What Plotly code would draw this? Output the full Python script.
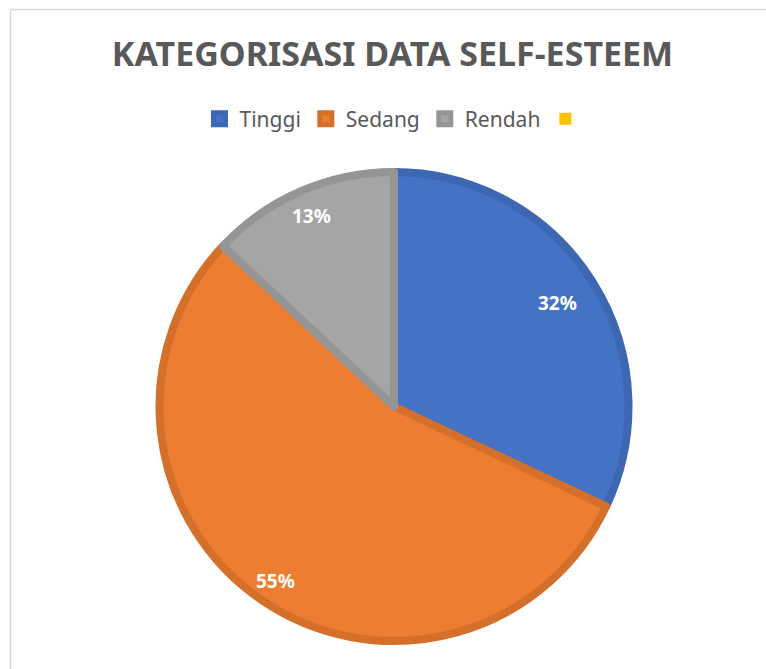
import math
import plotly.graph_objects as go

categories = ["Tinggi", "Sedang", "Rendah", " "]
values = [32, 55, 13, 0]
fill_colors = ["#4472C4", "#ED7D31", "#A5A5A5", "#FFC000"]
line_colors = ["#3D67B3", "#D5702B", "#959595", "#E6AC00"]
line_widths = [8, 8, 8, 0]
label_radius = [0.81, 0.885, 0.87, 0.0]  # fraction of radius for the % labels

W, H = 766, 669
FONT = "Liberation Sans Narrow, Noto Sans, sans-serif"

# pie placement in pixels
CX, CY, R = 394.0, 406.5, 238.5
dom_x = [(CX - (W - CX)) / W, 1.0]
dom_y = [1 - (CY + R - 4) / H, 1 - (CY - R + 4) / H]

fig = go.Figure(go.Pie(
    labels=categories,
    values=values,
    sort=False,
    direction="clockwise",
    rotation=0,
    marker=dict(colors=fill_colors, line=dict(color=line_colors, width=line_widths)),
    textinfo="none",
    domain=dict(x=dom_x, y=dom_y),
    hoverinfo="label+percent",
))

# percentage labels placed along each slice's bisector
total = sum(values)
annotations = []
cum = 0.0
for lab, v, rf in zip(categories, values, label_radius):
    if v <= 0:
        continue
    mid = (cum + v / 2) / total * 2 * math.pi
    cum += v
    px = CX + rf * R * math.sin(mid)
    py = CY - rf * R * math.cos(mid)
    annotations.append(dict(
        x=px / W, y=1 - py / H, xref="paper", yref="paper",
        text=f"<b>{round(v / total * 100)}%</b>", showarrow=False,
        font=dict(color="white", size=19, family=FONT),
        xanchor="center", yanchor="middle",
    ))

fig.update_layout(
    width=W, height=H,
    margin=dict(l=0, r=0, t=0, b=0),
    paper_bgcolor="white",
    plot_bgcolor="white",
    title=dict(
        text="<b>KATEGORISASI DATA SELF-ESTEEM</b>",
        x=392.5 / W, xanchor="center",
        y=1 - 54 / H, yanchor="middle", yref="container",
        font=dict(size=34, color="#595959", family=FONT),
    ),
    legend=dict(
        orientation="h",
        x=398 / W, xanchor="center",
        y=1 - 119 / H, yanchor="middle",
        font=dict(size=21, color="#595959", family=FONT),
        itemwidth=30,
        traceorder="normal",
    ),
    annotations=annotations,
    shapes=[
        dict(type="line", xref="paper", yref="paper",
             x0=10.5 / W, x1=1.0, y0=1 - 9.5 / H, y1=1 - 9.5 / H,
             line=dict(color="#D9D9D9", width=1.5), layer="below"),
        dict(type="line", xref="paper", yref="paper",
             x0=10.5 / W, x1=10.5 / W, y0=0.0, y1=1 - 9.5 / H,
             line=dict(color="#D9D9D9", width=1.5), layer="below"),
    ],
)

fig.write_html(
    "out.html",
    config={"displayModeBar": False},
    post_script="document.body.style.margin='0';"
                "document.documentElement.style.overflow='hidden';",
)
